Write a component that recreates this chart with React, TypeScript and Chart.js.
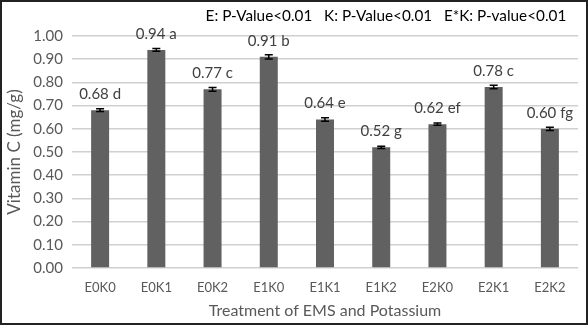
import React, { useEffect, useRef } from "react";
import { Chart, registerables } from "chart.js";

Chart.register(...registerables);

const categories = ["E0K0", "E0K1", "E0K2", "E1K0", "E1K1", "E1K2", "E2K0", "E2K1", "E2K2"];
const vitaminC = [0.68, 0.94, 0.77, 0.91, 0.64, 0.52, 0.62, 0.78, 0.6];
const errors = [0.006, 0.006, 0.008, 0.009, 0.008, 0.005, 0.005, 0.008, 0.007];
const letters = ["d", "a", "c", "b", "e", "g", "ef", "c", "fg"];
const titleText = "E: P-Value<0.01   K: P-Value<0.01   E*K: P-value<0.01\u00a0\u00a0\u00a0";
const FONT = "Lato, 'Open Sans', sans-serif";

const errorAndLabelPlugin = {
  id: "errorAndLabel",
  afterDatasetsDraw(chart: any) {
    const ctx = chart.ctx;
    const yScale = chart.scales.y;
    const meta = chart.getDatasetMeta(0);
    ctx.save();
    meta.data.forEach((bar: any, i: number) => {
      const x = bar.x;
      const v = vitaminC[i];
      const e = errors[i];
      const yTop = yScale.getPixelForValue(v + e);
      const yBot = yScale.getPixelForValue(v - e);
      ctx.strokeStyle = "#000000";
      ctx.lineWidth = 1.5;
      ctx.beginPath();
      ctx.moveTo(x, yTop);
      ctx.lineTo(x, yBot);
      ctx.moveTo(x - 4, yTop);
      ctx.lineTo(x + 4, yTop);
      ctx.moveTo(x - 4, yBot);
      ctx.lineTo(x + 4, yBot);
      ctx.stroke();
      const yBar = yScale.getPixelForValue(v);
      ctx.fillStyle = "#404040";
      ctx.font = `15px ${FONT}`;
      ctx.textAlign = "center";
      ctx.textBaseline = "middle";
      ctx.fillText(`${v.toFixed(2)} ${letters[i]}`, x, yBar - 16);
    });
    ctx.restore();
  },
};

export default function App() {
  const ref = useRef<HTMLCanvasElement | null>(null);
  useEffect(() => {
    if (!ref.current) return;
    const chart = new Chart(ref.current, {
      type: "bar",
      data: {
        labels: categories,
        datasets: [
          {
            data: vitaminC,
            backgroundColor: "#616161",
            borderWidth: 0,
            barPercentage: 0.32,
            categoryPercentage: 1,
          },
        ],
      },
      options: {
        animation: false,
        responsive: true,
        maintainAspectRatio: false,
        layout: { padding: { right: 10, top: 0, bottom: 0, left: 0 } },
        plugins: {
          legend: { display: false },
          tooltip: { enabled: false },
          title: {
            display: true,
            text: titleText,
            align: "end",
            color: "#000000",
            font: { family: FONT, size: 15.3, weight: "normal" },
            padding: { top: 7, bottom: 10.6 },
          },
        },
        scales: {
          x: {
            grid: { display: false, drawTicks: false },
            border: { display: false },
            ticks: {
              color: "#595959",
              font: { family: FONT, size: 13 },
              padding: 12,
              maxRotation: 0,
            },
            title: {
              display: true,
              text: "Treatment of EMS and Potassium",
              color: "#595959",
              font: { family: FONT, size: 16 },
              padding: { top: 0, bottom: 5 },
            },
            afterFit(scale: any) {
              scale.height = 57;
            },
          },
          y: {
            min: 0,
            max: 1,
            grid: { color: "#d0d0d0", lineWidth: 1.5, drawTicks: false },
            border: { display: false },
            ticks: {
              stepSize: 0.1,
              color: "#595959",
              font: { family: FONT, size: 15 },
              padding: 9,
              callback: (v: any) => Number(v).toFixed(2),
            },
            title: {
              display: true,
              text: "Vitamin C (mg/g)",
              color: "#595959",
              font: { family: FONT, size: 17 },
              padding: { top: 4, bottom: 0 },
            },
            afterFit(scale: any) {
              scale.width = 72;
            },
          },
        },
      },
      plugins: [errorAndLabelPlugin],
    });
    return () => chart.destroy();
  }, []);
  return (
    <div style={{ position: "absolute", left: 0, top: 0, width: 588, height: 325, background: "#fff" }}>
      <canvas ref={ref} />
      <div
        style={{
          position: "absolute",
          left: 0,
          top: 0,
          width: 588,
          height: 325,
          border: "2px solid #222",
          boxSizing: "border-box",
          pointerEvents: "none",
        }}
      />
    </div>
  );
}
